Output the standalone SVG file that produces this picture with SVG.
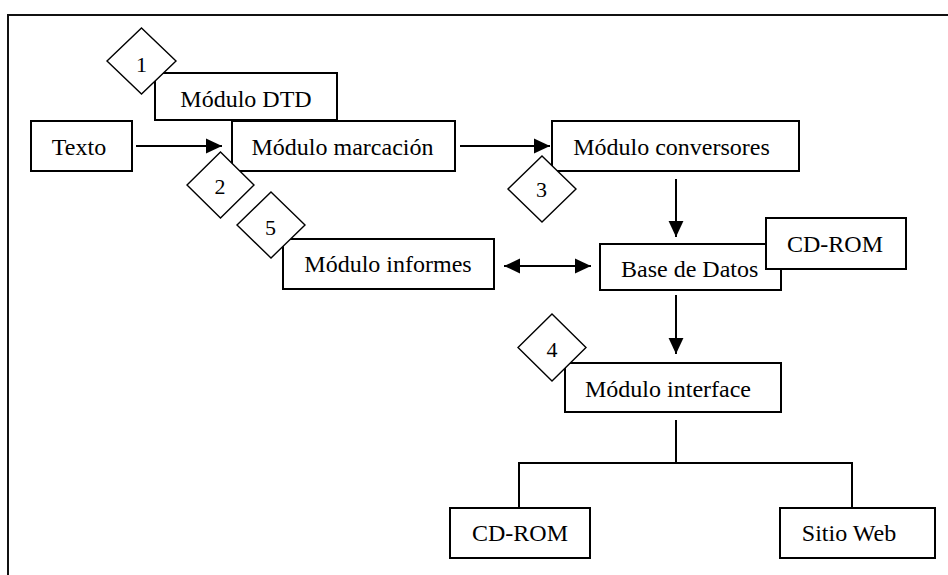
<svg xmlns="http://www.w3.org/2000/svg" width="948" height="575" viewBox="0 0 948 575">
<style>
.box{fill:#fff;stroke:#000;stroke-width:2}
.dia{fill:#fff;stroke:#000;stroke-width:1.4}
.t{font-family:"Liberation Serif","Times New Roman",serif;font-size:24px;fill:#000}
.n{font-family:"Liberation Serif","Times New Roman",serif;font-size:22px;fill:#000;text-anchor:middle}
.c{text-anchor:middle}
.ln{fill:none;stroke:#000;stroke-width:2}
</style>
<defs>
<marker id="ah" markerUnits="userSpaceOnUse" markerWidth="16" markerHeight="16" viewBox="0 0 14 14" refX="14" refY="7" orient="auto">
<path d="M0,0.5 L14,7 L0,13.5 Z" fill="#000"/>
</marker>
<marker id="ahs" markerUnits="userSpaceOnUse" markerWidth="16" markerHeight="16" viewBox="0 0 14 14" refX="0" refY="7" orient="auto">
<path d="M14,0.5 L0,7 L14,13.5 Z" fill="#000"/>
</marker>
</defs>
<rect width="948" height="575" fill="#fff"/>
<path d="M8,575 V15 H948" fill="none" stroke="#111" stroke-width="2"/>
<g id="connectors">
<line class="ln" x1="136" y1="146" x2="222" y2="146" marker-end="url(#ah)"/>
<line class="ln" x1="460" y1="146" x2="550" y2="146" marker-end="url(#ah)"/>
<line class="ln" x1="676" y1="179" x2="676" y2="237" marker-end="url(#ah)"/>
<line class="ln" x1="504" y1="266" x2="591" y2="266" marker-start="url(#ahs)" marker-end="url(#ah)"/>
<line class="ln" x1="676" y1="295" x2="676" y2="354" marker-end="url(#ah)"/>
<path class="ln" d="M676,420 V463 M519,508 V463 H852 V508"/>
</g>
<g id="texto"><rect class="box" x="31" y="121" width="101" height="50"/><text class="t c" x="79" y="155">Texto</text></g>
<g id="modulo-dtd"><rect class="box" x="155" y="73" width="182" height="47"/><text class="t c" x="246" y="107">Módulo DTD</text></g>
<g id="modulo-marcacion"><rect class="box" x="232" y="121" width="223" height="50"/><text class="t c" x="342.5" y="155">Módulo marcación</text></g>
<g id="modulo-conversores"><rect class="box" x="552" y="121" width="247" height="50"/><text class="t c" x="671.5" y="155">Módulo conversores</text></g>
<g id="modulo-informes"><rect class="box" x="283" y="239" width="211" height="50"/><text class="t c" x="388" y="272">Módulo informes</text></g>
<g id="base-de-datos"><rect class="box" x="600" y="244" width="181" height="46"/><text class="t" x="621" y="277">Base de Datos</text></g>
<g id="cdrom-top"><rect class="box" x="766" y="218" width="140" height="51"/><text class="t c" x="835" y="252">CD-ROM</text></g>
<g id="modulo-interface"><rect class="box" x="565" y="363" width="216" height="49"/><text class="t c" x="668" y="397">Módulo interface</text></g>
<g id="cdrom-bottom"><rect class="box" x="450" y="508" width="140" height="50"/><text class="t c" x="520" y="541">CD-ROM</text></g>
<g id="sitio-web"><rect class="box" x="780" y="508" width="155" height="50"/><text class="t c" x="849" y="541">Sitio Web</text></g>
<g id="diamond-1"><path class="dia" d="M141.5,28 L176,61 L141.5,94 L107,61 Z"/><text class="n" x="141.5" y="72">1</text></g>
<g id="diamond-2"><path class="dia" d="M220.5,152 L254,185 L220.5,218 L187,185 Z"/><text class="n" x="220" y="194">2</text></g>
<g id="diamond-3"><path class="dia" d="M542,156 L576,189 L542,222 L508,189 Z"/><text class="n" x="541.5" y="197">3</text></g>
<g id="diamond-4"><path class="dia" d="M552,314 L586,347.5 L552,381 L518,347.5 Z"/><text class="n" x="552" y="357">4</text></g>
<g id="diamond-5"><path class="dia" d="M271,192 L305,225 L271,258 L237,225 Z"/><text class="n" x="270.5" y="235">5</text></g>
</svg>
